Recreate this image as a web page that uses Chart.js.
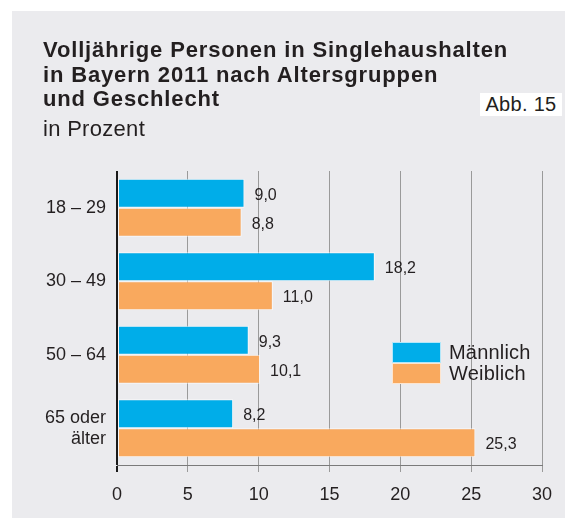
<!DOCTYPE html>
<html lang="de">
<head>
<meta charset="utf-8">
<script src="https://cdn.jsdelivr.net/npm/chart.js@4"></script>
<style>
  body { margin: 0; background: #fff; font-family: "Liberation Sans", Arial, sans-serif; color: #231f20; }
  #panel { position: absolute; left: 12px; top: 11px; width: 553px; height: 507px; background: #ebebee; }
  #chart { position: absolute; left: 0; top: 0; }
  .titel { position: absolute; left: 43px; top: 38px; font-size: 22px; font-weight: bold; line-height: 24.5px; letter-spacing: 0.85px; white-space: nowrap; }
  .einheit { position: absolute; left: 43px; top: 117px; font-size: 22px; line-height: 24.5px; letter-spacing: 0.3px; }
  .abb { position: absolute; left: 480px; top: 93px; width: 82px; height: 23px; background: #fff; font-size: 20px; line-height: 23px; text-align: center; letter-spacing: 0.3px; }
  .leg { position: absolute; left: 392px; width: 160px; height: 21px; font-size: 20px; line-height: 21px; letter-spacing: 0.2px; }
  .leg span { display: inline-block; width: 47px; height: 19px; border: 1px solid rgba(255,255,255,0.7); vertical-align: top; margin-right: 8px; }
</style>
</head>
<body>
<div id="panel"></div>
<canvas id="chart" width="569" height="523"></canvas>
<div class="titel">Volljährige Personen in Singlehaushalten<br>in Bayern 2011 nach Altersgruppen<br>und Geschlecht</div>
<div class="einheit">in Prozent</div>
<div class="abb">Abb. 15</div>
<div class="leg" id="leg0" style="top:342px"></div>
<div class="leg" id="leg1" style="top:363px"></div>
<script>
// Werte in Prozent
var altersgruppen = ['18 – 29', '30 – 49', '50 – 64', ['65 oder', 'älter']];
var maennlich = [9.0, 18.2, 9.3, 8.2];
var weiblich = [8.8, 11.0, 10.1, 25.3];
var serien = ['Männlich', 'Weiblich'];
var farben = ['#00ade9', '#f9a95e'];
var achsenTicks = [0, 5, 10, 15, 20, 25, 30];

// Legende
serien.forEach(function(name, i) {
    document.getElementById('leg' + i).innerHTML =
        '<span style="background:' + farben[i] + '"></span>' + name;
});

// Werte rechts neben die Balken schreiben
var wertLabels = {
    id: 'wertLabels',
    afterDatasetsDraw: function(chart) {
        var ctx = chart.ctx;
        ctx.save();
        ctx.font = '16px "Liberation Sans", Arial, sans-serif';
        ctx.fillStyle = '#231f20';
        ctx.textAlign = 'left';
        ctx.textBaseline = 'middle';
        chart.data.datasets.forEach(function(ds, i) {
            chart.getDatasetMeta(i).data.forEach(function(bar, j) {
                var txt = ds.data[j].toFixed(1).replace('.', ',');
                ctx.fillText(txt, bar.x + 10, bar.y + 2);
            });
        });
        ctx.restore();
    }
};

const ctx = document.getElementById('chart').getContext('2d');
const myChart = new Chart(ctx, {
    type: 'bar',
    data: {
        labels: altersgruppen,
        datasets: [{
            label: serien[0],
            data: maennlich,
            backgroundColor: farben[0],
            borderColor: 'rgba(255,255,255,0.7)',
            borderWidth: 1,
            borderSkipped: false
        },
        {
            label: serien[1],
            data: weiblich,
            backgroundColor: farben[1],
            borderColor: 'rgba(255,255,255,0.7)',
            borderWidth: 1,
            borderSkipped: false
        }]
    },
    options: {
        indexAxis: 'y',
        responsive: false,
        animation: false,
        devicePixelRatio: 1,
        categoryPercentage: 0.79,
        barPercentage: 1,
        layout: { padding: { left: 0, top: 171, right: 27, bottom: 0 } },
        plugins: {
            legend: { display: false },
            tooltip: { enabled: false }
        },
        scales: {
            x: {
                min: 0,
                max: 30,
                afterFit: function(scale) { scale.height = 58; },
                afterBuildTicks: function(scale) {
                    scale.ticks = achsenTicks.map(function(v) { return { value: v }; });
                },
                grid: {
                    color: function(c) { return c.index === 0 ? '#1a1a1a' : '#9a9a9a'; },
                    lineWidth: function(c) { return c.index === 0 ? 2 : 1; },
                    tickLength: 7
                },
                border: { color: '#7a7a7a', width: 1 },
                ticks: {
                    padding: 12,
                    color: '#231f20',
                    font: { size: 18, family: '"Liberation Sans", Arial, sans-serif' }
                }
            },
            y: {
                afterFit: function(scale) { scale.width = 117; },
                grid: { display: false, drawTicks: false },
                border: { display: false },
                ticks: {
                    padding: 11,
                    color: '#231f20',
                    font: { size: 18, family: '"Liberation Sans", Arial, sans-serif', lineHeight: 1.17 }
                }
            }
        }
    },
    plugins: [wertLabels]
});
</script>
</body>
</html>
